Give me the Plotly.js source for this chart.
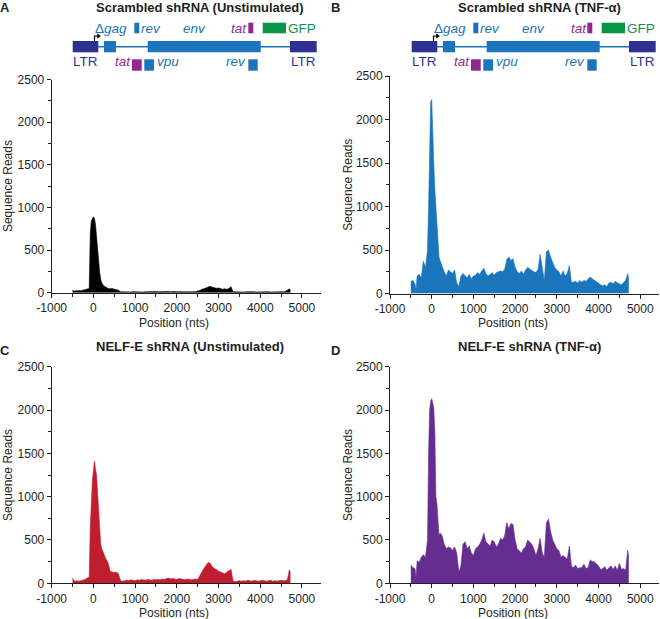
<!DOCTYPE html>
<html>
<head>
<meta charset="utf-8">
<script src="https://cdn.plot.ly/plotly-3.0.1.min.js"></script>
<style>
html,body{margin:0;padding:0;background:#fff;}
#chart{width:660px;height:619px;}
</style>
</head>
<body>
<div id="chart"></div>
<script>
// ---------- DATA ----------
const positions = [-500,-450,-400,-375,-350,-300,-250,-200,-150,
  -100,-75,-50,-25,0,25,50,75,100,125,150,175,200,
  250,300,350,400,450,500,550,600,650,700,750,800,850,900,950,1000,1050,
  1100,1150,1200,1250,1300,1350,1400,1450,1500,1550,1600,1650,1700,1750,1800,1850,1900,1950,2000,2050,
  2100,2150,2200,2250,2300,2350,2400,2450,2500,2550,2600,2650,2700,2750,2800,2850,2900,2950,3000,3050,
  3100,3150,3200,3250,3300,3350,3400,3450,3500,3550,3600,3650,3700,3750,3800,3850,3900,3950,4000,4050,
  4100,4150,4200,4250,4300,4350,4400,4450,4500,4550,4600,4650,4700,4725];

const scrambledUnstim = [25,20,25,20,25,22,30,35,40,
  50,700,840,870,890,870,800,660,500,340,240,160,115,
  80,60,50,45,50,40,35,30,12,10,8,12,10,8,12,10,8,
  10,12,8,10,12,10,8,12,14,10,12,15,12,14,15,12,16,14,12,15,
  12,10,14,12,10,15,12,14,18,25,40,45,55,68,75,65,55,52,55,45,
  40,45,40,48,70,10,8,10,8,10,8,10,12,8,10,12,8,10,12,10,
  8,10,12,8,10,12,10,8,12,10,15,30,45,20];

const scrambledTNF = [140,150,110,40,200,220,180,370,300,
  500,1000,1700,2200,2230,1750,1500,1200,1000,760,550,420,380,
  310,250,200,270,250,230,270,120,80,200,230,200,180,220,170,200,210,
  240,220,260,290,230,200,220,240,210,240,250,260,250,280,390,420,380,400,300,250,
  230,260,220,270,300,280,260,250,240,280,450,300,150,480,500,420,350,300,270,250,
  200,260,200,230,320,130,130,140,120,150,130,150,140,160,190,170,150,140,110,100,
  90,100,80,120,130,110,140,120,110,100,130,150,230,150];

const nelfUnstim = [60,25,30,25,25,30,35,45,60,
  70,650,1000,1180,1300,1410,1320,1250,1050,800,560,450,400,
  330,280,240,140,130,125,130,110,30,25,30,35,30,40,35,30,40,
  35,45,40,35,45,40,35,45,40,45,40,50,45,55,60,50,55,50,45,55,
  50,45,40,50,45,40,45,50,45,80,130,170,210,240,230,190,170,160,140,130,
  120,110,130,150,160,25,20,25,30,25,30,25,35,30,25,35,30,25,30,35,
  30,25,30,35,25,30,25,30,35,30,30,40,155,120];

const nelfTNF = [210,180,170,60,260,240,300,330,300,
  500,1500,2000,2100,2130,2080,2020,1750,1000,920,650,550,580,
  550,450,400,420,410,380,420,350,130,200,450,480,400,430,350,320,400,
  420,450,500,580,480,450,430,500,480,420,450,520,500,550,700,630,690,680,500,400,
  380,350,400,420,500,480,450,400,320,400,520,350,300,700,740,600,500,450,400,380,
  300,320,300,280,430,200,180,210,170,180,180,220,170,180,270,250,250,230,200,160,
  170,190,150,180,200,160,200,150,230,160,170,150,380,300];

const xTickVals = [-1000,0,1000,2000,3000,4000,5000];
const xTickLabels = ['-1000','0','1000','2000','3000','4000','5000'];
const yTickVals = [0,500,1000,1500,2000,2500];
const yTickLabels = ['0','500','1000','1500','2000','2500'];

const panelTitles = ['Scrambled shRNA (Unstimulated)','Scrambled shRNA (TNF-α)',
                     'NELF-E shRNA (Unstimulated)','NELF-E shRNA (TNF-α)'];
const panelLetters = ['A','B','C','D'];
const seriesList = [scrambledUnstim, scrambledTNF, nelfUnstim, nelfTNF];

// ---------- LAYOUT HELPERS ----------
const W = 660, H = 619;
const px = x => x / W;
const py = y => 1 - y / H;
const FONT = 'Arial, "Liberation Sans", Helvetica, sans-serif';
const INK = '#231f20';

const panels = [
  {left:51.7, right:320.7, top:79.5, bottom:292.7, color:'#000000', titleX:200, titleY:8, letterX:5, letterY:8, ytX:8, xtY:323},
  {left:390, right:659, top:76, bottom:293.5, color:'#1a75bc', titleX:539, titleY:8, letterX:336, letterY:8, ytX:348, xtY:323},
  {left:51.7, right:320.7, top:366.7, bottom:583.3, color:'#be1e2d', titleX:190, titleY:346, letterX:5, letterY:350, ytX:8, xtY:612.5},
  {left:390, right:659, top:366.7, bottom:583.3, color:'#662d91', titleX:529, titleY:346, letterX:336, letterY:350, ytX:348, xtY:612.5}
];

const traces = [];
const layout = {
  width: W, height: H,
  margin: {l:0, r:0, t:0, b:0},
  paper_bgcolor: '#fff', plot_bgcolor: 'rgba(0,0,0,0)',
  showlegend: false,
  font: {family: FONT, color: INK, size: 12},
  annotations: [], shapes: []
};

panels.forEach((p, i) => {
  const n = i + 1;
  const xa = n === 1 ? 'x' : 'x' + n;
  const ya = n === 1 ? 'y' : 'y' + n;
  traces.push({
    type: 'scatter', mode: 'lines', x: positions, y: seriesList[i],
    xaxis: xa, yaxis: ya, fill: 'tozeroy',
    fillcolor: p.color, line: {color: p.color, width: 0.6},
    hoverinfo: 'skip'
  });
  layout[(n === 1 ? 'xaxis' : 'xaxis' + n)] = {
    domain: [px(p.left), px(p.right)], range: [-1000, 5450], anchor: ya,
    showline: true, linecolor: INK, linewidth: 1, showgrid: false, zeroline: false,
    tickmode: 'array', tickvals: xTickVals, ticktext: xTickLabels,
    ticks: 'outside', ticklen: 4, tickwidth: 1, tickcolor: INK,
    tickfont: {family: FONT, size: 12, color: INK},
    minor: {tickmode: 'linear', tick0: 0, dtick: 500, ticks: 'outside', ticklen: 3, tickcolor: INK, showgrid: false},
    fixedrange: true
  };
  layout[(n === 1 ? 'yaxis' : 'yaxis' + n)] = {
    domain: [py(p.bottom), py(p.top)], range: [0, 2500], anchor: xa,
    showline: true, linecolor: INK, linewidth: 1, showgrid: false, zeroline: false,
    tickmode: 'array', tickvals: yTickVals, ticktext: yTickLabels,
    ticks: 'outside', ticklen: 4, tickwidth: 1, tickcolor: INK,
    tickfont: {family: FONT, size: 12, color: INK},
    minor: {tickmode: 'linear', tick0: 0, dtick: 250, ticks: 'outside', ticklen: 3, tickcolor: INK, showgrid: false},
    fixedrange: true
  };
  const ann = layout.annotations;
  ann.push({xref:'paper', yref:'paper', x: px(p.titleX), y: py(p.titleY), xanchor:'center', yanchor:'middle',
    text: '<b>' + panelTitles[i] + '</b>', showarrow:false, font:{family:FONT, size:13, color:INK}});
  ann.push({xref:'paper', yref:'paper', x: px(p.letterX), y: py(p.letterY), xanchor:'center', yanchor:'middle',
    text: '<b>' + panelLetters[i] + '</b>', showarrow:false, font:{family:FONT, size:13, color:INK}});
  ann.push({xref:'paper', yref:'paper', x: px(p.ytX), y: py((p.top + p.bottom) / 2), xanchor:'center', yanchor:'middle',
    text: 'Sequence Reads', textangle: -90, showarrow:false, font:{family:FONT, size:12, color:INK}});
  ann.push({xref:'paper', yref:'paper', x: px((p.left + p.right) / 2 - 12), y: py(p.xtY), xanchor:'center', yanchor:'middle',
    text: 'Position (nts)', showarrow:false, font:{family:FONT, size:12, color:INK}});
});

// ---------- GENOME DIAGRAM (panels A and B) ----------
const NAVY = '#2e3192', BLUE = '#1c75bc', PURPLE = '#92278f', GREEN = '#0a9447';
function rect(x0, x1, y0, y1, c) {
  layout.shapes.push({type:'rect', xref:'paper', yref:'paper', x0:px(x0), x1:px(x1), y0:py(y1), y1:py(y0),
    fillcolor:c, line:{width:0}});
}
function label(x, y, txt, c) {
  layout.annotations.push({xref:'paper', yref:'paper', x:px(x), y:py(y), xanchor:'center', yanchor:'middle',
    text: txt, showarrow:false, font:{family:FONT, size:13.5, color:c}});
}
function diagram(dx) {
  layout.shapes.push({type:'line', xref:'paper', yref:'paper', x0:px(98+dx), x1:px(290+dx), y0:py(46.7), y1:py(46.7),
    line:{color:BLUE, width:1.5}});
  rect(72.7+dx, 98.3+dx, 41, 52.3, NAVY);
  rect(104+dx, 116+dx, 41, 52.3, BLUE);
  rect(147.7+dx, 260.7+dx, 41, 52.3, BLUE);
  rect(290+dx, 316.7+dx, 41, 52.3, NAVY);
  rect(134.3+dx, 139.3+dx, 22.7, 33.3, BLUE);
  rect(248.3+dx, 253.3+dx, 22.7, 33.3, PURPLE);
  rect(262.7+dx, 286+dx, 22.7, 33.3, GREEN);
  rect(132+dx, 141.7+dx, 59.3, 70.7, PURPLE);
  rect(144.3+dx, 154+dx, 59.3, 70.7, BLUE);
  rect(248.3+dx, 257.7+dx, 59.3, 70.7, BLUE);
  // transcription start arrow
  layout.shapes.push({type:'path', xref:'paper', yref:'paper',
    path:`M ${px(94.5+dx)} ${py(41)} L ${px(94.5+dx)} ${py(36)} L ${px(98+dx)} ${py(36)}`,
    line:{color:'#000', width:1.2}});
  layout.shapes.push({type:'path', xref:'paper', yref:'paper',
    path:`M ${px(97.5+dx)} ${py(33.8)} L ${px(100.5+dx)} ${py(36)} L ${px(97.5+dx)} ${py(38.2)} Z`,
    fillcolor:'#000', line:{color:'#000', width:0.5}});
  label(111.3+dx, 28, 'Δ<i>gag</i>', BLUE);
  label(150.5+dx, 28, '<i>rev</i>', BLUE);
  label(194+dx, 28, '<i>env</i>', BLUE);
  label(239.5+dx, 28, '<i>tat</i>', PURPLE);
  label(301.5+dx, 28, 'GFP', GREEN);
  label(85.5+dx, 62, 'LTR', NAVY);
  label(123+dx, 62, '<i>tat</i>', PURPLE);
  label(167.8+dx, 62, '<i>vpu</i>', BLUE);
  label(236+dx, 62, '<i>rev</i>', BLUE);
  label(303.8+dx, 62, 'LTR', NAVY);
}
diagram(0);
diagram(339);

Plotly.newPlot('chart', traces, layout, {displayModeBar:false, staticPlot:true});
</script>
</body>
</html>
